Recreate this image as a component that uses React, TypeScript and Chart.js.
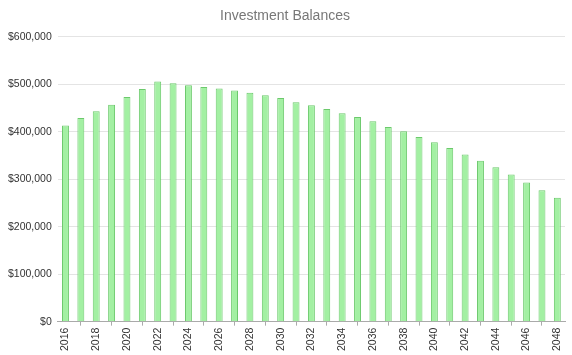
import React, { useEffect, useRef } from "react";
import { Chart, registerables } from "chart.js";

Chart.register(...registerables);

const years: string[] = [
  "2016", "2017", "2018", "2019", "2020", "2021", "2022", "2023", "2024", "2025", "2026",
  "2027", "2028", "2029", "2030", "2031", "2032", "2033", "2034", "2035", "2036", "2037",
  "2038", "2039", "2040", "2041", "2042", "2043", "2044", "2045", "2046", "2047", "2048",
];

const balances: number[] = [
  413000, 429000, 443000, 457000, 473000, 490000, 506000, 502000, 498000, 494000, 491000,
  487000, 482000, 477000, 471000, 462000, 456000, 448000, 439000, 431000, 422000, 410000,
  401000, 389000, 378000, 366000, 352000, 339000, 325000, 310000, 293000, 277000, 261000,
];

const titleText = "Investment Balances";

export default function App() {
  const ref = useRef<HTMLCanvasElement>(null);
  useEffect(() => {
    document.body.style.margin = "0";
    const chart = new Chart(ref.current!, {
      type: "bar",
      data: {
        labels: years,
        datasets: [
          {
            label: "Balance",
            data: balances,
            backgroundColor: "#a3f0a3",
            borderColor: "#6cc96c",
            borderWidth: 1,
            barPercentage: 0.5,
            categoryPercentage: 0.9,
          },
        ],
      },
      options: {
        animation: false,
        responsive: false,
        layout: { padding: { left: 2, right: 4, top: 0, bottom: 2 } },
        plugins: {
          legend: { display: false },
          tooltip: { enabled: false },
          title: {
            display: true,
            text: titleText,
            color: "#777",
            font: { family: "Liberation Sans", size: 14, weight: "normal" },
            padding: { top: 8, bottom: 12 },
          },
        },
        scales: {
          x: {
            grid: { drawOnChartArea: false, tickLength: 4, color: "#aaa" },
            border: { color: "#aaa" },
            ticks: {
              color: "#333",
              padding: 2,
              font: { family: "Liberation Sans", size: 10.5 },
              minRotation: 90,
              maxRotation: 90,
              autoSkip: true,
              callback: (_v: any, i: number) => (i % 2 === 0 ? years[i] : null),
            },
          },
          y: {
            min: 0,
            max: 600000,
            grid: { color: "#e4e4e4", drawTicks: false },
            border: { display: false },
            ticks: {
              stepSize: 100000,
              color: "#333",
              padding: 6,
              font: { family: "Liberation Sans", size: 10.5 },
              callback: (v: any) => "$" + Number(v).toLocaleString("en-US"),
            },
          },
        },
      },
    });
    return () => chart.destroy();
  }, []);
  return <canvas ref={ref} width={572} height={355} style={{ display: "block" }} />;
}
